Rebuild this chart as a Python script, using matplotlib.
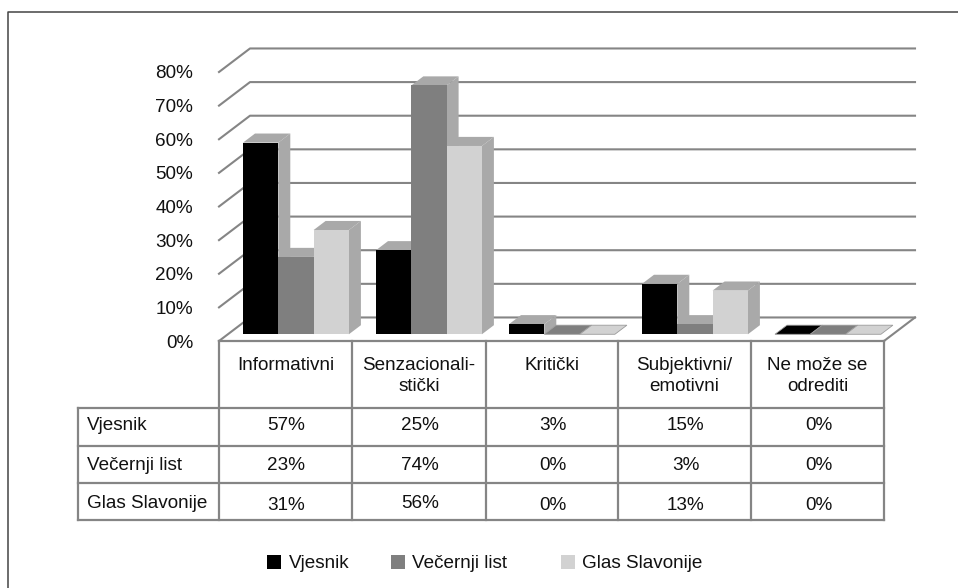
import matplotlib

matplotlib.use("Agg")
import matplotlib.pyplot as plt
from matplotlib.patches import Polygon, Rectangle

plt.rcParams["font.family"] = ["Liberation Sans", "DejaVu Sans"]

categories = ["Informativni", "Senzacionali-\nstički", "Kritički", "Subjektivni/\nemotivni", "Ne može se\nodrediti"]
series_names = ["Vjesnik", "Večernji list", "Glas Slavonije"]
vjesnik = [57, 25, 3, 15, 0]
vecernji = [23, 74, 0, 3, 0]
glas = [31, 56, 0, 13, 0]
y_ticks = [0, 10, 20, 30, 40, 50, 60, 70, 80]

W, H = 958, 588
GRID = "#858585"
SIDE = "#a9a9a9"
INK = "#111111"
colors = ["#000000", "#7f7f7f", "#d2d2d2"]
FS = 13.6

fig = plt.figure(figsize=(W / 100, H / 100), dpi=100)

# page layer in pixels, for the frame, the table and the legend
page = fig.add_axes([0, 0, 1, 1])
page.set_xlim(0, W)
page.set_ylim(H, 0)
page.axis("off")

# chart layer: one x unit is one category, y is percent
left, right, top, bottom = 219, 884, 72, 341
ax = fig.add_axes([left / W, 1 - bottom / H, (right - left) / W, (bottom - top) / H])
ax.patch.set_alpha(0)
ax.set_xlim(0, len(categories))
ax.set_ylim(0, 80)
for s in ax.spines.values():
    s.set_visible(False)
ax.set_xticks([])
ax.set_yticks(y_ticks)
ax.set_yticklabels([f"{v}%" for v in y_ticks], fontsize=FS, color=INK)
ax.tick_params(axis="y", length=0, pad=18.5)

# wall depth and bar geometry in data units
wall_dx = 31 / 133
wall_dy = 7.0
inset = 24 / 133
bar_w = 35.3 / 133
bar_dx = 12 / 133
bar_dy = 2.7
base = 2.0

n = len(categories)
for t in y_ticks:
    ax.plot([0, wall_dx, n + wall_dx], [t, t + wall_dy, t + wall_dy], color=GRID, lw=1.5, clip_on=False, zorder=1)
ax.plot([n + wall_dx, n], [wall_dy, 0], color=GRID, lw=1.5, clip_on=False, zorder=1)

for i in range(n):
    for j, vals in enumerate([vjesnik, vecernji, glas]):
        v = vals[i]
        x0 = i + inset + j * bar_w
        x1 = x0 + bar_w
        y0 = base
        y1 = base + v
        z = 2 + i + j * 0.1
        if v == 0:
            # empty bar: only the floor print, in the series colour
            ax.add_patch(Polygon([(x0, y1), (x0 + bar_dx, y1 + bar_dy), (x1 + bar_dx, y1 + bar_dy), (x1, y1)],
                                 fc=colors[j], ec="#9a9a9a", lw=0.6, clip_on=False, zorder=z))
            continue
        ax.add_patch(Polygon([(x0, y1), (x0 + bar_dx, y1 + bar_dy), (x1 + bar_dx, y1 + bar_dy), (x1, y1)],
                             fc=SIDE, ec="none", clip_on=False, zorder=z))
        ax.add_patch(Polygon([(x1, y0), (x1 + bar_dx, y0 + bar_dy), (x1 + bar_dx, y1 + bar_dy), (x1, y1)],
                             fc=SIDE, ec="none", clip_on=False, zorder=z))
        ax.add_patch(Rectangle((x0, y0), bar_w, v, fc=colors[j], ec="none", clip_on=False, zorder=z))

# table
col_x = [219, 352, 486, 618, 751, 884]
row_y = [341, 408, 446, 483, 520]
row_text_y = [426, 466, 505]
label_text_y = [426, 465, 503]
label_x = 78
for k, y in enumerate(row_y):
    page.plot([col_x[0] if k == 0 else label_x, col_x[-1]], [y, y], color=GRID, lw=1.6, zorder=1)
for x in col_x:
    page.plot([x, x], [row_y[0], row_y[-1]], color=GRID, lw=1.6, zorder=1)
page.plot([label_x, label_x], [row_y[1], row_y[-1]], color=GRID, lw=1.6, zorder=1)

for i, name in enumerate(categories):
    xc = (col_x[i] + col_x[i + 1]) / 2
    page.text(xc, 376 if "\n" in name else 365, name, ha="center", va="center", fontsize=FS, color=INK, linespacing=1.3)
    for r, vals in enumerate([vjesnik, vecernji, glas]):
        yy = row_text_y[r] - (2 if (i, r) == (1, 2) else 0)
        page.text(xc + 1, yy, f"{vals[i]}%", ha="center", va="center", fontsize=FS, color=INK)
for r, name in enumerate(series_names):
    page.text(87, label_text_y[r], name, ha="left", va="center", fontsize=FS, color=INK)

# legend
legend_x = [267, 391, 561]
for x, name, c in zip(legend_x, series_names, colors):
    page.add_patch(Rectangle((x, 555), 14, 14, fc=c, ec="none"))
    page.text(x + 21.5, 564, name, ha="left", va="center", fontsize=FS, color=INK)

# outer frame, open on the right and at the bottom
page.plot([8.5, 8.5, W], [H, 12, 12], color="#444444", lw=1.1)

fig.savefig("out.png", dpi=100)
